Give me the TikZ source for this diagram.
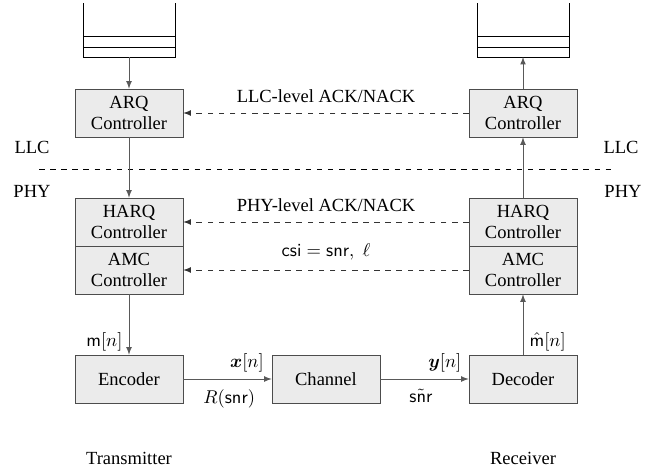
\documentclass[tikz,border=0pt]{standalone}
\usepackage{amsmath}
\usepackage{fontspec}
\setmainfont{Liberation Serif}
\usetikzlibrary{arrows}
\begin{document}
\fontsize{10}{11}\selectfont
\begin{tikzpicture}[x=0.54pt,y=-0.54pt,>=latex,font=\rmfamily,
    blk/.style={draw=black!70,fill=black!8,minimum width=58.3pt,minimum height=25.9pt,align=center,inner sep=0pt},
    link/.style={draw=black!65,->},
    fb/.style={draw=black!80,dashed,->}]
\useasboundingbox (0,0) rectangle (662,470);
% queues
\foreach \q in{83,477}
{
    \draw(\q,3)--(\q,57)--(\q+92,57)--(\q+92,3);
    \draw(\q,36)--(\q+92,36);
    \draw(\q,47)--(\q+92,47);
}
\coordinate (txq) at (129,57);
\coordinate (rxq) at (523,57);

% blocks
\node[blk] (txarq) at (129,113) {ARQ\\Controller};
\node[blk] (rxarq) at (523,113) {ARQ\\Controller};
\node[blk] (txharq) at (129,222) {HARQ\\Controller};
\node[blk] (rxharq) at (523,222) {HARQ\\Controller};
\node[blk] (txamc) at (129,270) {AMC\\Controller};
\node[blk] (rxamc) at (523,270) {AMC\\Controller};
\node[blk] (enc) at (129,379) {Encoder};
\node[blk] (chan) at (326,379) {Channel};
\node[blk] (dec) at (523,379) {Decoder};

% layer split
\coordinate (sl) at (39,169);
\coordinate (sr) at (613,169);
\draw[dashed](sl)--(sr);
\node (llcl) at (32,147) {LLC};
\node (phyl) at (32,191) {PHY};
\node (llcr) at (621,147) {LLC};
\node (phyr) at (623,191) {PHY};

% data path
\draw[link](txq)--(txarq);
\draw[link](txarq)--(txharq);
\draw[link](txamc)--node[pos=0.78,left]{$\mathsf{m}[n]$}(enc);
\draw[link](enc)--node[pos=0.72,above]{$\boldsymbol{x}[n]$}node[pos=0.52,below=2pt]{$R(\mathsf{snr})$}(chan);
\draw[link](chan)--node[pos=0.73,above]{$\boldsymbol{y}[n]$}node[pos=0.46,below=2pt]{$\tilde{\mathsf{snr}}$}(dec);
\draw[link](dec)--node[pos=0.22,right]{$\hat{\mathsf{m}}[n]$}(rxamc);
\draw[link](rxharq)--(rxarq);
\draw[link](rxarq)--(rxq);

% feedback
\draw[fb](rxarq)--node[above=2pt]{LLC-level ACK/NACK}(txarq);
\draw[fb](rxharq)--node[above=2pt]{PHY-level ACK/NACK}(txharq);
\draw[fb](rxamc)--node[above=2pt]{$\mathsf{csi}=\mathsf{snr},\;\ell$}(txamc);

\node (tx) at (129,458) {Transmitter};
\node (rx) at (523,458) {Receiver};

\end{tikzpicture}
\end{document}
